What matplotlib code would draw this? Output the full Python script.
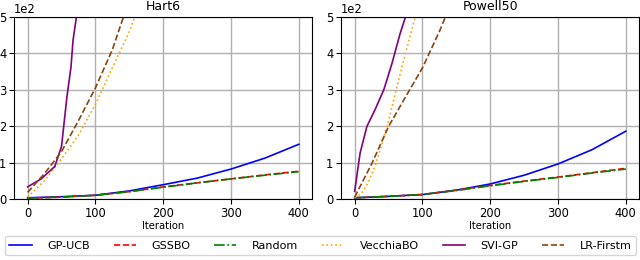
import numpy as np
import matplotlib
matplotlib.use("Agg")
import matplotlib.pyplot as plt

# Hart6 curves
hart_x_slow = [0, 50, 100, 150, 200, 250, 300, 350, 400]
hart_gpucb = [3, 6, 10, 22, 39, 57, 82, 112, 150]
hart_gssbo = [2, 5, 10, 20, 33, 44, 55, 66, 76]
hart_random = [2, 5, 10, 20, 32, 44, 55, 65, 75]

hart_vecchia_x = [0, 25, 50, 75, 100, 125, 150, 160]
hart_vecchia = [5, 50, 110, 175, 260, 360, 460, 510]
hart_lr_x = [0, 25, 50, 75, 100, 125, 145]
hart_lr = [18, 70, 130, 215, 305, 410, 520]
hart_svi_x = [0, 20, 40, 50, 58, 64, 67, 72, 74]
hart_svi = [33, 55, 89, 144, 281, 363, 436, 500, 520]

# Powell50 curves
pow_x_slow = [0, 50, 100, 150, 200, 250, 300, 350, 400]
pow_gpucb = [3, 7, 12, 24, 41, 65, 96, 135, 186]
pow_gssbo = [3, 7, 12, 24, 37, 49, 60, 72, 84]
pow_random = [3, 7, 12, 23, 36, 48, 59, 71, 82]

pow_vecchia_x = [0, 10, 20, 30, 40, 50, 60, 70, 80, 90]
pow_vecchia = [3, 15, 45, 90, 150, 215, 290, 365, 435, 505]
pow_lr_x = [0, 25, 50, 75, 100, 125, 135]
pow_lr = [5, 96, 199, 280, 360, 460, 505]
pow_svi_x = [0, 8, 18, 30, 43, 55, 67, 75, 77]
pow_svi = [21, 126, 199, 245, 300, 372, 454, 500, 520]

titles = ["Hart6", "Powell50"]
labels = ["GP-UCB", "GSSBO", "Random", "VecchiaBO", "SVI-GP", "LR-Firstm"]
colors = ["blue", "red", "green", "orange", "purple", "saddlebrown"]
styles = ["-", "--", "-.", ":", "-", "--"]

panels = [
    [(hart_x_slow, hart_gpucb), (hart_x_slow, hart_gssbo), (hart_x_slow, hart_random),
     (hart_vecchia_x, hart_vecchia), (hart_svi_x, hart_svi), (hart_lr_x, hart_lr)],
    [(pow_x_slow, pow_gpucb), (pow_x_slow, pow_gssbo), (pow_x_slow, pow_random),
     (pow_vecchia_x, pow_vecchia), (pow_svi_x, pow_svi), (pow_lr_x, pow_lr)],
]

plt.rcParams["font.size"] = 8.3

fig = plt.figure(figsize=(6.4, 2.6), dpi=100)
ax1 = fig.add_axes([0.022, 0.235, 0.466, 0.70])
ax2 = fig.add_axes([0.533, 0.235, 0.466, 0.70])

for ax, title, series in zip([ax1, ax2], titles, panels):
    for (x, y), lab, c, ls in zip(series, labels, colors, styles):
        ax.plot(x, y, color=c, linestyle=ls, linewidth=1.2, label=lab)
    ax.set_ylim(0, 500)
    ax.set_xticks([0, 100, 200, 300, 400])
    ax.grid(True, color="#b0b0b0", linewidth=1.0)
    ax.set_title(title, fontsize=9, pad=5)
    ax.set_xlabel("Iteration", fontsize=7.2, labelpad=1)
    ax.ticklabel_format(axis="y", style="sci", scilimits=(0, 0))
    ax.tick_params(pad=2)

handles, labs = ax1.get_legend_handles_labels()
fig.legend(handles, labs, loc="lower left", ncol=6, mode="expand",
           bbox_to_anchor=(5 / 640, 5 / 260, 631 / 640, 24 / 260),
           fontsize=8, handletextpad=1.4, borderaxespad=0)

fig.savefig("out.png", dpi=100)
